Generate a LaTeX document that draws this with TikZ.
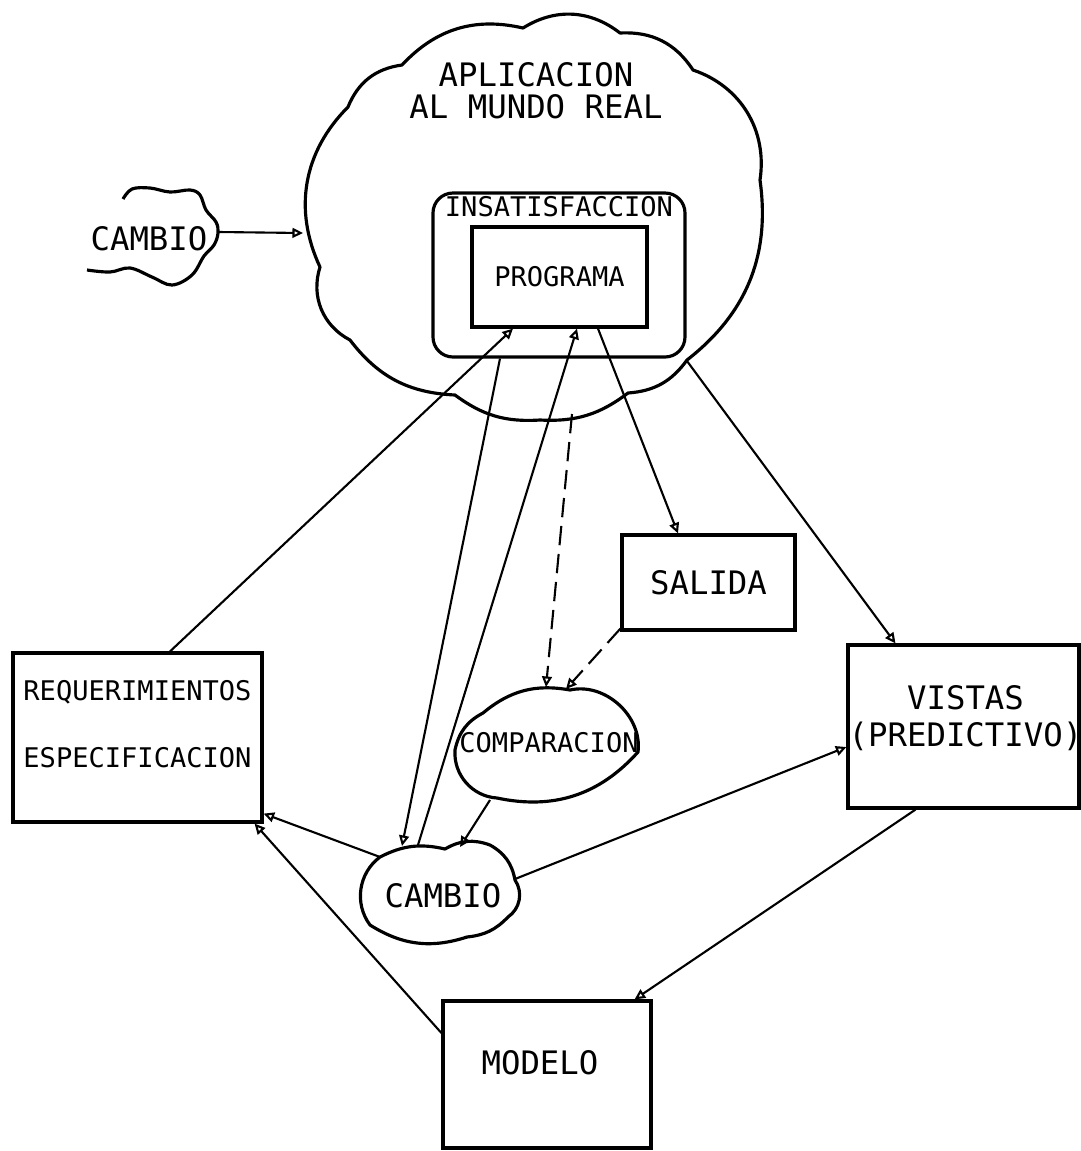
\documentclass[tikz,border=0pt]{standalone}
\usepackage{fontspec}
\newfontfamily\typew{DejaVu Sans Mono}
\usepackage{tikz}
\usetikzlibrary{arrows.meta,positioning}
\newcommand{\bigtype}{\typew\fontsize{9.2}{11}\selectfont}
\newcommand{\smalltype}{\typew\fontsize{7.7}{9.3}\selectfont}
\tikzset{box/.style={draw,line width=0.9pt,inner sep=0pt,font=\bigtype},
  lbl/.style={inner sep=0pt,align=center,font=\bigtype},
  cloudline/.style={line width=0.9pt,line join=round},
  arr/.style={-{Triangle[open,length=3pt,width=2.8pt]},line width=0.6pt},
  darr/.style={arr,dash pattern=on 5.5pt off 2.5pt}}

\begin{document}
\begin{tikzpicture}
\useasboundingbox (0,0) rectangle (10.81,-11.51);
% clouds
\draw[cloudline] (3.20,-2.67) to[bend left=35] (3.48,-1.07) to[bend left=30] (4.02,-0.65)
  to[bend left=30] (5.23,-0.28) to[bend left=35] (6.20,-0.33) to[bend left=30] (6.93,-0.70)
  to[bend left=40] (7.60,-1.80) to[bend left=30] (6.87,-3.60) to[bend left=25] (6.28,-3.93)
  to[bend left=20] (5.40,-4.20) to[bend left=20] (4.55,-3.95) to[bend left=25] (3.50,-3.40)
  to[bend left=40] cycle;
\node[lbl] (mundo) at (5.36,-0.91) {APLICACION\\[-1.9pt]AL MUNDO REAL};
\draw[cloudline] plot[smooth,tension=0.6] coordinates {(1.23,-1.99) (1.32,-1.89) (1.50,-1.88)
  (1.70,-1.92) (1.90,-1.90) (2.00,-1.95) (2.06,-2.10) (2.16,-2.22) (2.18,-2.33) (2.14,-2.45)
  (2.04,-2.56) (1.92,-2.75) (1.72,-2.85) (1.52,-2.77) (1.30,-2.68) (1.10,-2.72) (0.87,-2.70)};
\node[lbl] (cambioA) at (1.49,-2.39) {CAMBIO};
\draw[cloudline] (4.83,-7.13) to[bend left=25] (5.70,-6.90) to[bend left=55] (6.38,-7.52)
  to[bend left=30] (4.97,-7.98) to[bend left=45] (4.55,-7.50) to[bend left=25] cycle;
\node[lbl,font=\smalltype] (comp) at (5.49,-7.43) {COMPARACION};
\draw[cloudline] (3.80,-8.57) to[bend left=20] (4.45,-8.49) to[bend left=25] (4.90,-8.45)
  to[bend left=25] (5.15,-8.80) to[bend left=45] (5.08,-9.17) to[bend left=20] (4.67,-9.37)
  to[bend left=25] (3.70,-9.25) to[bend left=45] cycle;
\node[lbl] (cambioB) at (4.43,-8.96) {CAMBIO};
% points on the clouds
\coordinate (mundoW) at (3.03,-2.33);
\coordinate (mundoS) at (5.72,-4.14);
\coordinate (mundoSE) at (6.87,-3.61);
\coordinate (cambioAE) at (2.19,-2.32);
\coordinate (compN1) at (5.46,-6.87);
\coordinate (compN2) at (5.66,-6.89);
\coordinate (compSW) at (4.90,-8.00);
\coordinate (cambioBN1) at (4.02,-8.46);
\coordinate (cambioBN2) at (4.18,-8.45);
\coordinate (cambioBN3) at (4.60,-8.47);
\coordinate (cambioBW) at (3.80,-8.57);
\coordinate (cambioBE) at (5.15,-8.79);
% boxes
\node[box,rounded corners=2mm,minimum width=2.52cm,minimum height=1.64cm] (insat) at (5.59,-2.75) {};
\node[lbl,font=\smalltype,below=0.4mm of insat.north] (insattext) {INSATISFACCION};
\node[box,minimum width=1.75cm,minimum height=1cm,font=\smalltype] (prog) at (5.595,-2.77) {PROGRAMA};
\node[box,minimum width=1.73cm,minimum height=0.95cm] (salida) at (7.085,-5.825) {SALIDA};
\node[box,minimum width=2.49cm,minimum height=1.69cm] (req) at (1.375,-7.375) {};
\node[lbl,font=\smalltype] (reqtext) at ([yshift=1.3mm]req.center) {REQUERIMIENTOS\\[9.7pt]ESPECIFICACION};
\node[box,minimum width=2.31cm,minimum height=1.63cm] (vistas) at (9.635,-7.265) {};
\node[lbl] (vistastext) at ([xshift=0.2mm,yshift=0.8mm]vistas.center) {VISTAS\\[-0.5pt](PREDICTIVO)};
\node[box,minimum width=2.08cm,minimum height=1.47cm] (modelo) at (5.47,-10.745) {};
\node[lbl] (modelotext) at ([xshift=-0.7mm,yshift=1.15mm]modelo.center) {MODELO};
% connectors
\draw[arr] (cambioAE) -- (mundoW);
\draw[arr] ([xshift=3.25mm]req.north) -- ([xshift=-4.65mm]prog.south);
\draw[arr] ([xshift=-5.9mm]insat.south) -- (cambioBN1);
\draw[arr] (cambioBN2) -- ([xshift=1.75mm]prog.south);
\draw[arr] ([xshift=3.85mm]prog.south) -- ([xshift=-3.05mm]salida.north);
\draw[arr] (mundoSE) -- ([xshift=-6.8mm]vistas.north);
\draw[darr] (mundoS) -- (compN1);
\draw[darr] ([yshift=0.3mm]salida.south west) -- (compN2);
\draw[arr] (compSW) -- (cambioBN3);
\draw[arr] (cambioBW) -- ([yshift=1mm]req.south east);
\draw[arr] (cambioBE) -- ([yshift=-2.05mm]vistas.west);
\draw[arr] ([xshift=-4.8mm]vistas.south) -- ([xshift=-1.8mm]modelo.north east);
\draw[arr] ([yshift=4.15mm]modelo.west) -- ([xshift=-0.9mm]req.south east);
\end{tikzpicture}
\end{document}
